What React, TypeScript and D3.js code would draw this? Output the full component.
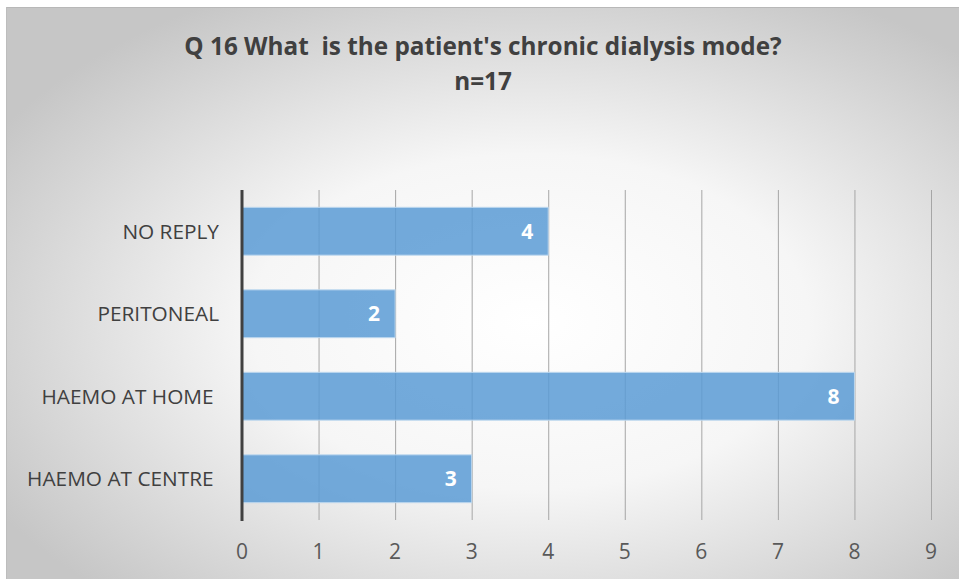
import React, { useEffect } from "react";
import * as d3 from "d3";

const categories = ["NO REPLY", "PERITONEAL", "HAEMO AT HOME ", "HAEMO AT CENTRE "];
const values = [4, 2, 8, 3];
const xTicks = [0, 1, 2, 3, 4, 5, 6, 7, 8, 9];
const titleLines = ["Q 16 What  is the patient's chronic dialysis mode?", "n=17"];

const W = 959;
const H = 579;
const X0 = 242;
const X1 = 931;
const Y0 = 190;
const Y1 = 520;

export default function App() {
  useEffect(() => {
    document.body.style.margin = "0";
  }, []);
  const x = d3.scaleLinear().domain([0, 9]).range([X0, X1]);
  const y = d3.scaleBand<string>().domain(categories).range([Y0, Y1]).paddingInner(0.42).paddingOuter(0.21);
  const font = "'Open Sans', 'Liberation Sans', sans-serif";
  return (
    <svg width={W} height={H} style={{ position: "absolute", left: 0, top: 0, display: "block" }}>
      <defs>
        <radialGradient id="bg" cx="0.55" cy="0.55" r="0.65" fx="0.55" fy="0.55">
          <stop offset="0" stopColor="#ffffff" />
          <stop offset="0.45" stopColor="#f6f6f6" />
          <stop offset="1" stopColor="#c6c6c6" />
        </radialGradient>
      </defs>
      <rect x={0} y={0} width={W} height={H} fill="#ffffff" />
      <rect x={6} y={7} width={W - 6} height={H - 7} fill="url(#bg)" />
      <line x1={6} x2={W} y1={7.5} y2={7.5} stroke="#b8b8b8" strokeWidth={1} />
      <line x1={6.5} x2={6.5} y1={7} y2={H} stroke="#bdbdbd" strokeWidth={1} />
      {titleLines.map((t, i) => (
        <text
          key={i}
          x={483}
          y={55 + i * 35}
          textAnchor="middle"
          fontFamily={font}
          fontWeight="bold"
          fontSize={24.3}
          fill="#404040"
          style={{ whiteSpace: "pre" }}
        >
          {t}
        </text>
      ))}
      {xTicks.map((t) => (
        <line key={"g" + t} x1={x(t) + 0.5} x2={x(t) + 0.5} y1={Y0} y2={Y1} stroke="#a6a6a6" strokeWidth={1} />
      ))}
      {categories.map((c, i) => (
        <g key={c}>
          <rect
            x={x(0)}
            y={y(c)}
            width={x(values[i]) - x(0)}
            height={y.bandwidth()}
            fill="#5b9bd5"
            fillOpacity={0.85}
            stroke="#bdd7ee"
            strokeWidth={1}
          />
          <text
            x={x(values[i]) - 15}
            y={(y(c) as number) + y.bandwidth() / 2 + 7.5}
            textAnchor="end"
            fontFamily={font}
            fontWeight="bold"
            fontSize={21}
            fill="#ffffff"
          >
            {values[i]}
          </text>
          <text
            x={219}
            y={(y(c) as number) + y.bandwidth() / 2 + 7.5}
            textAnchor="end"
            fontFamily={font}
            fontSize={20.8}
            fill="#404040"
            style={{ whiteSpace: "pre" }}
          >
            {c}
          </text>
        </g>
      ))}
      <line x1={x(0)} x2={x(0)} y1={Y0} y2={Y1 + 1} stroke="#404040" strokeWidth={3} />
      {xTicks.map((t) => (
        <text key={"t" + t} x={x(t)} y={559} textAnchor="middle" fontFamily={font} fontSize={21} fill="#595959">
          {t}
        </text>
      ))}
    </svg>
  );
}
